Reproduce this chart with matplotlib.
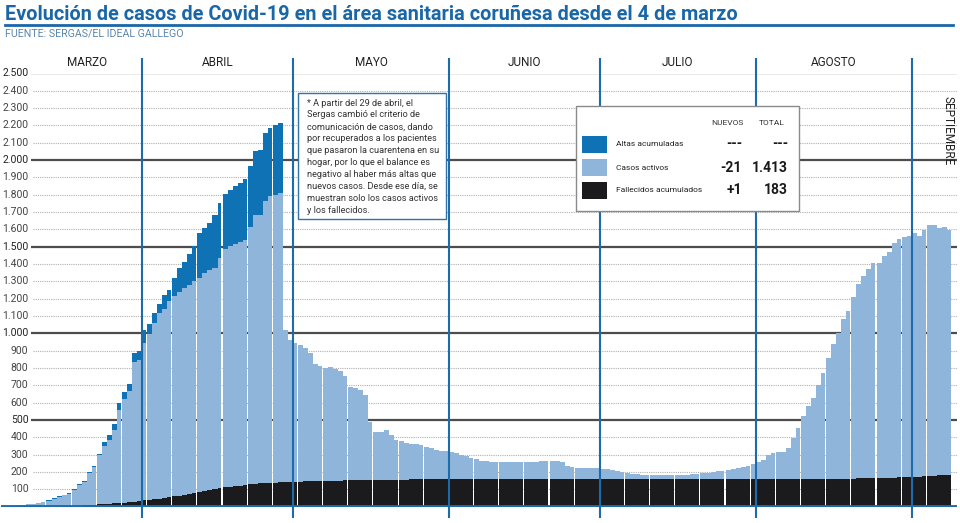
import numpy as np
import pandas as pd
import matplotlib
matplotlib.use('Agg')
import matplotlib.pyplot as plt
import matplotlib.dates as mdates
from matplotlib.lines import Line2D
from matplotlib.patches import Rectangle

plt.rcParams['font.family'] = ['Roboto', 'DejaVu Sans']

# datos diarios (4 de marzo - 8 de septiembre)
marzo_fallecidos = [0, 0, 0, 0, 0, 0, 0, 0, 0, 0, 0, 0, 0, 0,
                    3, 5, 7, 9, 11, 13, 15, 17, 19, 21, 23, 25, 28, 31]
marzo_activos = [2, 3, 4, 6, 9, 12, 15, 19, 25, 34, 44, 55, 65, 75,
                 92, 122, 137, 185, 216, 282, 335, 368, 423, 538, 597, 641, 807, 814]
marzo_altas = [0, 0, 0, 0, 0, 0, 0, 0, 0, 3, 3, 3, 3, 3,
               5, 5, 6, 6, 8, 10, 20, 30, 33, 36, 40, 44, 50, 55]

abril_fallecidos = [35, 38, 42, 46, 50, 54, 58, 62, 67, 72, 78, 85, 89, 94, 99,
                    104, 110, 113, 117, 120, 124, 130, 132, 134, 136, 137, 138, 139, 141, 142]
abril_activos = [910, 959, 1019, 1073, 1088, 1133, 1158, 1179, 1197, 1208, 1222, 1232, 1259, 1274, 1280,
                 1333, 1374, 1392, 1400, 1408, 1414, 1482, 1553, 1551, 1630, 1653, 1663, 1672, 878, 817]
abril_altas = [72, 58, 58, 52, 84, 62, 104, 136, 149, 177, 204, 260, 260, 267, 302,
               314, 322, 320, 331, 342, 355, 355, 367, 375, 388, 396, 399, 406, 0, 0]

mayo_fallecidos = [143, 144, 145, 146, 147, 148, 148, 149, 150, 150, 151, 151, 152, 152, 153, 153,
                   154, 154, 154, 155, 155, 155, 155, 156, 156, 156, 156, 156, 157, 157, 157]
mayo_activos = [800, 791, 771, 741, 673, 662, 652, 657, 646, 635, 605, 537, 532, 521, 493, 332,
                279, 279, 287, 259, 230, 224, 214, 204, 204, 200, 188, 180, 172, 166, 161]

junio_fallecidos = [157, 157, 157, 157, 157, 157, 157, 157, 157, 157, 157, 157, 157, 157, 157,
                    158, 158, 158, 158, 158, 158, 158, 158, 158, 158, 158, 158, 158, 158, 158]
junio_activos = [158, 153, 143, 135, 125, 115, 108, 103, 100, 100, 100, 100, 100, 100, 100,
                 100, 100, 100, 104, 104, 104, 102, 100, 77, 70, 67, 64, 62, 62, 62]

julio_fallecidos = [158, 158, 158, 158, 158, 158, 158, 158, 158, 158, 158, 158, 158, 158, 158, 158,
                    158, 158, 158, 158, 158, 158, 158, 158, 158, 158, 158, 158, 158, 158, 158]
julio_activos = [60, 57, 52, 47, 42, 37, 32, 28, 24, 22, 22, 22, 22, 22, 22, 22,
                 23, 25, 28, 30, 33, 37, 40, 45, 49, 54, 60, 66, 72, 78, 87]

agosto_fallecidos = [158, 158, 158, 158, 158, 158, 158, 158, 158, 158, 159, 159, 159, 159, 159, 160,
                     160, 160, 160, 160, 162, 162, 162, 162, 165, 165, 165, 165, 168, 168, 168]
agosto_activos = [101, 109, 140, 149, 155, 159, 178, 236, 294, 362, 419, 467, 545, 612, 699, 779,
                  843, 924, 969, 1050, 1121, 1170, 1212, 1245, 1242, 1283, 1306, 1354, 1376, 1386, 1395]

septiembre_fallecidos = [170, 172, 174, 176, 178, 180, 182, 183]
septiembre_activos = [1407, 1391, 1424, 1449, 1447, 1426, 1434, 1413]

meses = ['MARZO', 'ABRIL', 'MAYO', 'JUNIO', 'JULIO', 'AGOSTO']
y_ticks = list(range(100, 2600, 100))

leyenda_nombres = ['Altas acumuladas', 'Casos activos', 'Fallecidos acumulados']
leyenda_nuevos = ['---', '-21', '+1']
leyenda_total = ['---', '1.413', '183']

nota = ["* A partir del 29 de abril, el",
        "Sergas cambió el criterio de",
        "comunicación de casos, dando",
        "por recuperados a los pacientes",
        "que pasaron la cuarentena en su",
        "hogar, por lo que el balance es",
        "negativo al haber más altas que",
        "nuevos casos. Desde ese día, se",
        "muestran solo los casos activos",
        "y los fallecidos."]

# colores
AZUL = '#1c6cab'
ALTAS = '#0e72b5'
ACTIVOS = '#8fb6da'
NEGRO = '#1b1a1c'

fallecidos = np.array(marzo_fallecidos + abril_fallecidos + mayo_fallecidos + junio_fallecidos
                      + julio_fallecidos + agosto_fallecidos + septiembre_fallecidos)
activos = np.array(marzo_activos + abril_activos + mayo_activos + junio_activos
                   + julio_activos + agosto_activos + septiembre_activos)
altas = np.array(marzo_altas + abril_altas)

dates = pd.date_range('2020-03-04', periods=len(activos), freq='D')
x = mdates.date2num(dates)
x0 = x[0]

W, H = 960, 523
def fx(px):
    return px / W
def fy(py):
    return 1 - py / H

fig = plt.figure(figsize=(9.6, 5.23), dpi=100)
ax = fig.add_axes([fx(1.2), fy(506.5), fx(957) - fx(1.2), fy(73.5) - fy(506.5)])
ax.set_xlim(x0, x0 + 190)
ax.set_ylim(0, 2500)
ax.set_axis_off()

# separacion blanca cada 5 dias
widths = np.where(np.arange(len(x)) % 5 == 3, 0.78, 1.0)

ax.bar(x, fallecidos, width=widths, align='edge', color=NEGRO, linewidth=0, antialiased=False, zorder=2)
ax.bar(x, activos, bottom=fallecidos, width=widths, align='edge', color=ACTIVOS,
       linewidth=0, antialiased=False, zorder=2)
n = len(altas)
ax.bar(x[:n], altas, bottom=fallecidos[:n] + activos[:n], width=widths[:n], align='edge',
       color=ALTAS, linewidth=0, antialiased=False, zorder=2)

# rejilla y etiquetas del eje y
for v in y_ticks:
    if v % 500 == 0:
        ax.hlines(v, x0 + 6.0, x0 + 190, color='#4d4d4d', lw=1.6, zorder=1)
        col = '#222222'
    else:
        ax.hlines(v, x0 + 6.4, x0 + 190, color='#b0b0b0', lw=0.8, linestyles=(0, (1, 1)), zorder=1)
        col = '#444444'
    ax.text(x0 + 5.4, v, f"{v:,}".replace(',', '.'), ha='right', va='center',
            fontsize=7.5, color=col)

# lineas de meses
inicios = mdates.date2num(pd.date_range('2020-04-01', '2020-09-01', freq='MS'))
ax.vlines(inicios, -64, 2590, color=AZUL, lw=1.5, zorder=4, clip_on=False)
ax.axhline(0, color=AZUL, lw=3.5, zorder=5, xmin=0, xmax=0.998)

centros = [(x0 + 6 + inicios[0]) / 2] + [(inicios[i] + inicios[i + 1]) / 2 for i in range(5)]
for c, m in zip(centros, meses):
    ax.text(c, 2566, m, ha='center', va='center', fontsize=8.5, color='#222222', clip_on=False)
ax.text(x0 + 188.2, 2173, 'SEPTIEMBRE', rotation=270, ha='center', va='center',
        fontsize=8.5, color='#222222')

# titulo
fig.text(fx(5), fy(14), 'Evolución de casos de Covid-19 en el área sanitaria coruñesa desde el 4 de marzo',
         fontsize=14.3, fontweight='bold', color='#1a67a8', ha='left', va='center')
fig.add_artist(Line2D([fx(5), fx(953)], [fy(24.5), fy(24.5)], color='#1a67a8', lw=2))
fig.text(fx(5), fy(33.5), 'FUENTE: SERGAS/EL IDEAL GALLEGO', fontsize=7.7, color='#5b86ad',
         ha='left', va='center')

# nota
fig.add_artist(Rectangle((fx(298), fy(219)), fx(446) - fx(298), fy(93) - fy(219),
                         transform=fig.transFigure, facecolor='white', edgecolor='#2e73ad',
                         lw=1, zorder=10))
for i, linea in enumerate(nota):
    fig.text(fx(307), fy(103 + i * 11.9), linea, fontsize=6.6, color='#333333',
             ha='left', va='center', zorder=11)

# leyenda
fig.add_artist(Rectangle((fx(576), fy(211)), fx(799) - fx(576), fy(106) - fy(211),
                         transform=fig.transFigure, facecolor='white', edgecolor='#8a8a8a',
                         lw=1, zorder=10))
fig.text(fx(727), fy(123), 'NUEVOS', fontsize=6, color='#333333', ha='center', va='center', zorder=11)
fig.text(fx(772), fy(123), 'TOTAL', fontsize=6, color='#333333', ha='center', va='center', zorder=11)
colores = [ALTAS, ACTIVOS, NEGRO]
for i in range(3):
    yc = 144.5 + i * 23
    fig.add_artist(Rectangle((fx(582), fy(yc + 8.8)), fx(607) - fx(582), fy(yc - 8.8) - fy(yc + 8.8),
                             transform=fig.transFigure, facecolor=colores[i], edgecolor='none', zorder=11))
    fig.text(fx(616), fy(yc), leyenda_nombres[i], fontsize=6, color='#222222',
             ha='left', va='center', zorder=11)
    fig.text(fx(742), fy(yc), leyenda_nuevos[i], fontsize=10, fontweight='bold', color='#1a1a1a',
             ha='right', va='center', zorder=11)
    fig.text(fx(788), fy(yc), leyenda_total[i], fontsize=10, fontweight='bold', color='#1a1a1a',
             ha='right', va='center', zorder=11)

fig.savefig('out.png', dpi=100)
